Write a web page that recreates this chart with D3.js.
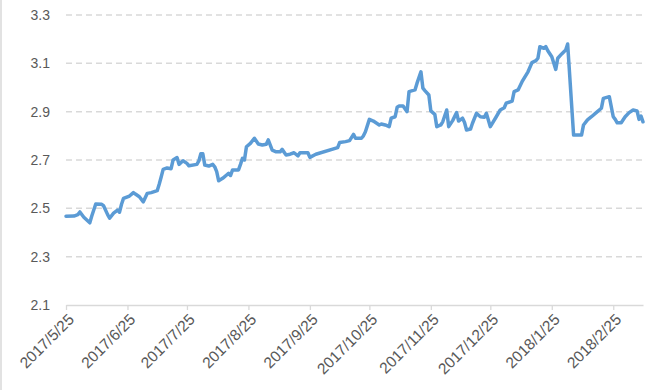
<!DOCTYPE html>
<html>
<head>
<meta charset="utf-8">
<script src="https://cdn.jsdelivr.net/npm/d3@7"></script>
<style>
  body { margin: 0; background: #fff; }
  svg { display: block; }
  text { font-family: "Liberation Sans", Arial, sans-serif; fill: #595959; }
</style>
</head>
<body>
<svg id="chart" width="660" height="390"></svg>
<script>
// data
var dates = [
  "2017-05-25","2017-05-29","2017-05-31","2017-06-01","2017-06-03","2017-06-06","2017-06-07","2017-06-09",
  "2017-06-12","2017-06-13","2017-06-15","2017-06-16","2017-06-18","2017-06-20","2017-06-21","2017-06-22",
  "2017-06-23","2017-06-26","2017-06-28","2017-06-29","2017-07-01","2017-07-03","2017-07-05","2017-07-07",
  "2017-07-10","2017-07-11","2017-07-12","2017-07-13","2017-07-15","2017-07-17","2017-07-18","2017-07-20",
  "2017-07-21","2017-07-23","2017-07-25","2017-07-26","2017-07-30","2017-07-31","2017-08-01","2017-08-02",
  "2017-08-03","2017-08-05","2017-08-07","2017-08-08","2017-08-09","2017-08-10","2017-08-12","2017-08-14",
  "2017-08-15","2017-08-16","2017-08-17","2017-08-20","2017-08-21","2017-08-22","2017-08-23","2017-08-24",
  "2017-08-26","2017-08-28","2017-08-30","2017-09-01","2017-09-03","2017-09-04","2017-09-06","2017-09-08",
  "2017-09-10","2017-09-11","2017-09-13","2017-09-15","2017-09-17","2017-09-19","2017-09-20","2017-09-24",
  "2017-09-25","2017-09-28","2017-10-09","2017-10-10","2017-10-13","2017-10-15","2017-10-17","2017-10-18",
  "2017-10-21","2017-10-22","2017-10-23","2017-10-25","2017-10-27","2017-10-30","2017-10-31","2017-11-02",
  "2017-11-04","2017-11-05","2017-11-07","2017-11-08","2017-11-09","2017-11-11","2017-11-13","2017-11-14",
  "2017-11-17","2017-11-18","2017-11-20","2017-11-21","2017-11-22","2017-11-24","2017-11-25","2017-11-27",
  "2017-11-28","2017-11-30","2017-12-01","2017-12-03","2017-12-04","2017-12-06","2017-12-08","2017-12-09",
  "2017-12-11","2017-12-12","2017-12-13","2017-12-15","2017-12-16","2017-12-18","2017-12-20","2017-12-22",
  "2017-12-23","2017-12-25","2017-12-26","2017-12-28","2017-12-30","2018-01-01","2018-01-02","2018-01-05",
  "2018-01-06","2018-01-08","2018-01-10","2018-01-11","2018-01-13","2018-01-15","2018-01-17","2018-01-18",
  "2018-01-19","2018-01-21","2018-01-22","2018-01-23","2018-01-25","2018-01-27","2018-01-28","2018-01-30",
  "2018-02-01","2018-02-02","2018-02-05","2018-02-09","2018-02-10","2018-02-12","2018-02-14","2018-02-17",
  "2018-02-19","2018-02-20","2018-02-23","2018-02-25","2018-02-26","2018-02-27","2018-03-01","2018-03-03",
  "2018-03-05","2018-03-07","2018-03-09","2018-03-10","2018-03-11","2018-03-12"
];
var yields = [
  2.467,2.468,2.474,2.485,2.463,2.440,2.468,2.518,
  2.517,2.510,2.474,2.459,2.480,2.493,2.484,2.517,
  2.541,2.551,2.565,2.559,2.548,2.527,2.562,2.565,
  2.573,2.600,2.630,2.661,2.667,2.664,2.700,2.710,
  2.682,2.697,2.686,2.676,2.682,2.696,2.726,2.726,
  2.679,2.675,2.682,2.672,2.652,2.614,2.624,2.638,
  2.645,2.636,2.659,2.659,2.682,2.707,2.700,2.755,
  2.769,2.790,2.766,2.762,2.765,2.783,2.741,2.734,
  2.734,2.744,2.721,2.724,2.730,2.717,2.730,2.730,
  2.711,2.724,2.751,2.772,2.776,2.780,2.806,2.790,
  2.790,2.800,2.817,2.868,2.861,2.845,2.849,2.845,
  2.838,2.873,2.879,2.918,2.923,2.923,2.900,2.983,
  2.990,3.017,3.065,2.997,2.987,2.969,2.903,2.889,
  2.838,2.845,2.858,2.907,2.838,2.863,2.896,2.861,
  2.873,2.855,2.824,2.828,2.852,2.893,2.879,2.877,
  2.893,2.838,2.852,2.879,2.907,2.916,2.935,2.944,
  2.983,2.990,3.024,3.038,3.065,3.103,3.111,3.121,
  3.169,3.162,3.169,3.152,3.127,3.075,3.121,3.139,
  3.155,3.180,2.803,2.803,2.845,2.866,2.879,2.900,
  2.914,2.955,2.962,2.879,2.868,2.854,2.854,2.879,
  2.896,2.907,2.903,2.868,2.882,2.858
];
var yTicks = [2.1, 2.3, 2.5, 2.7, 2.9, 3.1, 3.3];
var xTickLabels = ["2017/5/25","2017/6/25","2017/7/25","2017/8/25","2017/9/25",
  "2017/10/25","2017/11/25","2017/12/25","2018/1/25","2018/2/25"];
var xStart = "2017-05-25", xEnd = "2018-03-12";

var parse = d3.timeParse("%Y-%m-%d");
var parseLabel = d3.timeParse("%Y/%m/%d");

var data = dates.map(function(d, i) { return { date: parse(d), value: yields[i] }; });

var svg = d3.select("#chart");
var plotLeft = 66, plotRight = 643, plotTop = 15, plotBottom = 305;

var x = d3.scaleTime().domain([parse(xStart), parse(xEnd)]).range([plotLeft, plotRight]);
var y = d3.scaleLinear().domain([2.1, 3.3]).range([plotBottom, plotTop]);

// chart border (only the left edge shows in the reference)
svg.append("line").attr("x1", 1).attr("x2", 1).attr("y1", 0).attr("y2", 390)
  .attr("stroke", "#d9d9d9").attr("stroke-width", 1.5);

// gridlines
svg.append("g").selectAll("line")
  .data(yTicks.filter(function(t) { return t > 2.1; }))
  .enter().append("line")
  .attr("x1", plotLeft).attr("x2", plotRight)
  .attr("y1", function(d) { return y(d); }).attr("y2", function(d) { return y(d); })
  .attr("stroke", "#d9d9d9").attr("stroke-width", 1.5)
  .attr("stroke-dasharray", "6,4");

// y axis labels
var yAxis = svg.append("g").attr("transform", "translate(" + plotLeft + ",0)")
  .call(d3.axisLeft(y).tickValues(yTicks).tickSize(0).tickPadding(16).tickFormat(d3.format(".1f")));
yAxis.select(".domain").remove();
yAxis.selectAll("text").style("font-size", "14px").attr("fill", "#595959");

// x axis
var tickDates = xTickLabels.map(function(s) { return parseLabel(s); });
var xAxis = svg.append("g").attr("transform", "translate(0," + plotBottom + ")")
  .call(d3.axisBottom(x).tickValues(tickDates).tickSize(5).tickSizeOuter(0)
    .tickFormat(function(d, i) { return xTickLabels[i]; }));
xAxis.select(".domain").attr("stroke", "#d9d9d9").attr("stroke-width", 1.3);
xAxis.selectAll(".tick line").attr("stroke", "#d9d9d9").attr("stroke-width", 1.3);
xAxis.selectAll("text")
  .style("font-size", "15.5px").attr("fill", "#595959")
  .attr("text-anchor", "end")
  .attr("dy", "0.35em")
  .attr("transform", "translate(-1,6) rotate(-45)");

// the series line
var line = d3.line()
  .x(function(d) { return x(d.date); })
  .y(function(d) { return y(d.value); });

svg.append("path").datum(data)
  .attr("d", line)
  .attr("fill", "none")
  .attr("stroke", "#5B9BD5")
  .attr("stroke-width", 3.5)
  .attr("stroke-linejoin", "round")
  .attr("stroke-linecap", "round");
</script>
</body>
</html>
